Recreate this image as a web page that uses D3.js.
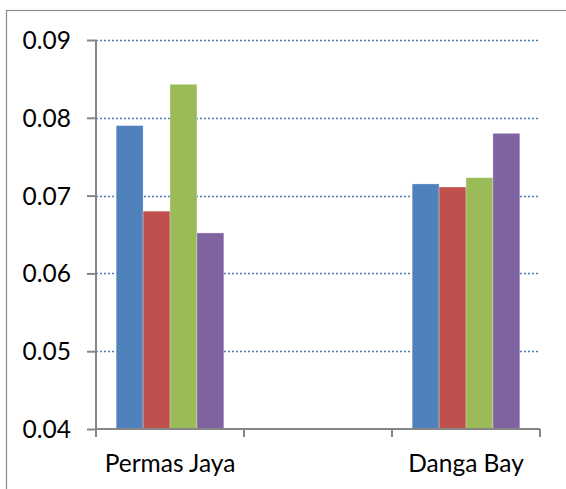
<!DOCTYPE html>
<html>
<head>
<meta charset="utf-8">
<script src="https://cdn.jsdelivr.net/npm/d3@7"></script>
<style>
  body { margin: 0; background: #fff; }
  text { font-family: Lato, "Open Sans", sans-serif; fill: #000; }
</style>
</head>
<body>
<svg id="chart" width="566" height="489"></svg>
<script>
// categories (middle slot is empty in the original)
var categories = ["Permas Jaya", "", "Danga Bay"];
var seriesNames = ["Series 1", "Series 2", "Series 3", "Series 4"];
var colors = ["#4f81bd", "#c0504d", "#9bbb59", "#8064a2"];

// values per series, one per category (null = no bar)
var series1 = [0.0790, null, 0.0715];
var series2 = [0.0680, null, 0.0711];
var series3 = [0.0843, null, 0.0723];
var series4 = [0.0652, null, 0.0780];

var yTicks = [0.04, 0.05, 0.06, 0.07, 0.08, 0.09];

var allSeries = [series1, series2, series3, series4];

var svg = d3.select("#chart");
var pLeft = 96, pRight = 540, pTop = 40, pBottom = 429;

// outer chart frame (clipped on right / bottom like the picture)
svg.append("rect")
  .attr("x", 6.5).attr("y", 10.5)
  .attr("width", 570).attr("height", 500)
  .attr("fill", "none").attr("stroke", "#8c8c8c").attr("stroke-width", 1.2);

var x = d3.scaleBand().domain(categories).range([pLeft, pRight]);
var y = d3.scaleLinear().domain([0.04, 0.09]).range([pBottom, pTop]);

// gap width 150% like excel: 4 bars + 1.5 bar of gap
var barW = x.bandwidth() / (seriesNames.length + 1.5);

// gridlines
svg.append("g").attr("class", "grid")
  .selectAll("line").data(yTicks.slice(1)).enter().append("line")
  .attr("x1", pLeft).attr("x2", pRight)
  .attr("y1", function(d) { return Math.round(y(d)) + 0.5; })
  .attr("y2", function(d) { return Math.round(y(d)) + 0.5; })
  .attr("stroke", "#4a7ebb").attr("stroke-width", 1.3)
  .attr("stroke-dasharray", "2,2");

// bars
var rows = [];
categories.forEach(function(c, ci) {
  allSeries.forEach(function(s, si) {
    if (s[ci] != null) rows.push({cat: c, si: si, v: s[ci]});
  });
});

svg.append("g").attr("class", "bars")
  .selectAll("rect").data(rows).enter().append("rect")
  .attr("x", function(d) { return x(d.cat) + barW * 0.75 + d.si * barW; })
  .attr("y", function(d) { return y(d.v); })
  .attr("width", barW)
  .attr("height", function(d) { return y(0.04) - y(d.v); })
  .attr("fill", function(d) { return colors[d.si]; })
  .attr("stroke", "rgba(255,255,255,0.35)").attr("stroke-width", 0.8);

// y axis
var yAxis = d3.axisLeft(y).tickValues(yTicks).tickSize(9).tickPadding(16)
  .tickFormat(d3.format(".2f"));
var ga = svg.append("g").attr("transform", "translate(" + pLeft + ",0)").call(yAxis);
ga.selectAll("path, line").attr("stroke", "#868686").attr("stroke-width", 2);
ga.select(".domain").attr("d", "M0," + pTop + "V" + pBottom);
ga.selectAll("text").attr("font-size", 24.5).attr("font-family", "Lato, sans-serif")
  .attr("fill", "#000").attr("dy", "0.35em");

// x axis
var xAxis = d3.axisBottom(x).tickSize(0).tickPadding(26);
var gx = svg.append("g").attr("transform", "translate(0," + pBottom + ")").call(xAxis);
gx.select(".domain").attr("d", "M" + pLeft + ",0H" + pRight).attr("stroke", "#868686").attr("stroke-width", 2);
gx.selectAll("text").attr("font-size", 24.5).attr("font-family", "Lato, sans-serif")
  .attr("fill", "#000").attr("dy", "0.71em");
var edges = [pLeft].concat(categories.map(function(c) { return x(c) + x.bandwidth(); }));
gx.selectAll("line.edge").data(edges).enter().append("line").attr("class", "edge")
  .attr("x1", function(d) { return d; }).attr("x2", function(d) { return d; })
  .attr("y1", 0).attr("y2", 8)
  .attr("stroke", "#868686").attr("stroke-width", 2);
</script>
</body>
</html>
